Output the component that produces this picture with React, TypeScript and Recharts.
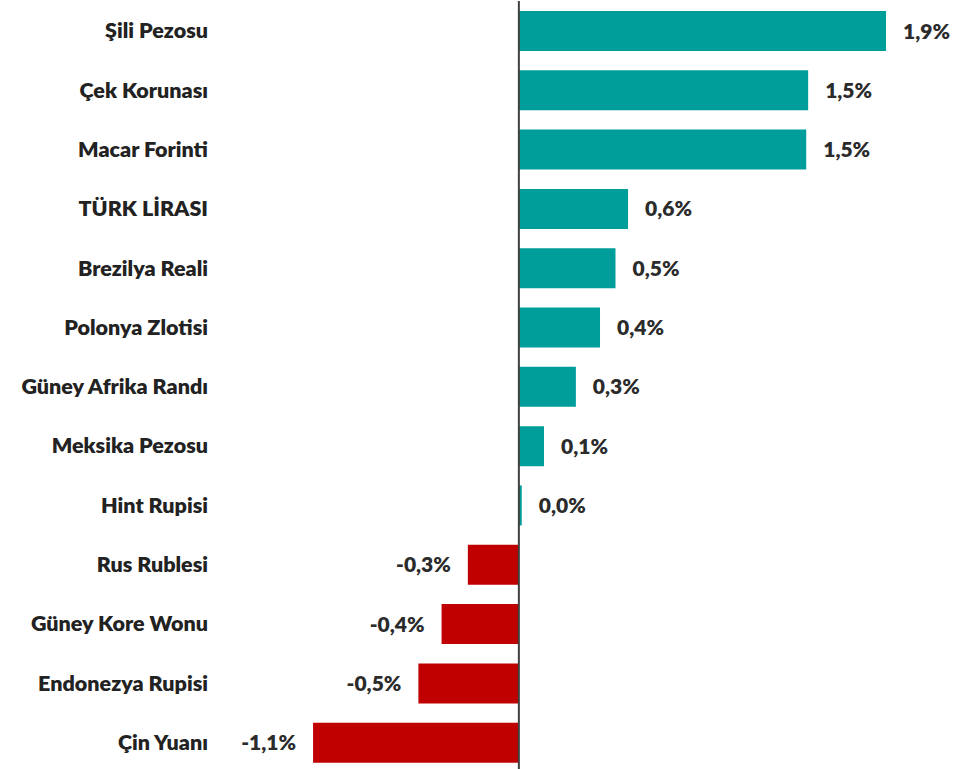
import React from "react";
import { BarChart, Bar, XAxis, YAxis, Cell, LabelList, ReferenceLine } from "recharts";

const currencies = [
  "Şili Pezosu",
  "Çek Korunası",
  "Macar Forinti",
  "TÜRK LİRASI",
  "Brezilya Reali",
  "Polonya Zlotisi",
  "Güney Afrika Randı",
  "Meksika Pezosu",
  "Hint Rupisi",
  "Rus Rublesi",
  "Güney Kore Wonu",
  "Endonezya Rupisi",
  "Çin Yuanı",
];

const changes = [1.9, 1.497, 1.487, 0.565, 0.5, 0.42, 0.295, 0.13, 0.015, -0.264, -0.4, -0.52, -1.065];

const POS = "#009E9A";
const NEG = "#C00000";
const FONT = "Lato, 'Open Sans', sans-serif";

const data = currencies.map((name, i) => ({ name, value: changes[i] }));

const fmt = (v: number) => v.toFixed(1).replace(".", ",") + "%";

const ValueLabel = (props: any) => {
  const { x, y, width, height, value } = props;
  const left = Math.min(x, x + width);
  const right = Math.max(x, x + width);
  const cy = y + height / 2;
  const pos = value >= 0;
  return (
    <text
      x={pos ? right + 17 : left - 17}
      y={cy}
      dy="0.36em"
      textAnchor={pos ? "start" : "end"}
      fontFamily={FONT}
      fontWeight={800}
      fontSize={21}
      fill="#2b2b2b"
    >
      {fmt(value)}
    </text>
  );
};

export default function App() {
  return (
    <div style={{ position: "absolute", left: 0, top: 0, background: "#fff" }}>
      <BarChart
        width={970}
        height={772}
        data={data}
        layout="vertical"
        margin={{ top: 1, right: 26, bottom: 0, left: 0 }}
      >
        <XAxis type="number" domain={[-1.5, 2.2]} hide allowDataOverflow />
        <YAxis
          type="category"
          dataKey="name"
          width={229}
          axisLine={false}
          tickLine={false}
          tickSize={0}
          tickMargin={21}
          interval={0}
          tick={{ fontFamily: FONT, fontWeight: 800, fontSize: 21.5, fill: "#222222" }}
        />
        <Bar dataKey="value" barSize={40} isAnimationActive={false}>
          {data.map((d, i) => (
            <Cell key={i} fill={d.value >= 0 ? POS : NEG} />
          ))}
          <LabelList dataKey="value" content={ValueLabel} />
        </Bar>
        <ReferenceLine x={0} stroke="#404040" strokeWidth={2} ifOverflow="extendDomain" />
      </BarChart>
    </div>
  );
}
